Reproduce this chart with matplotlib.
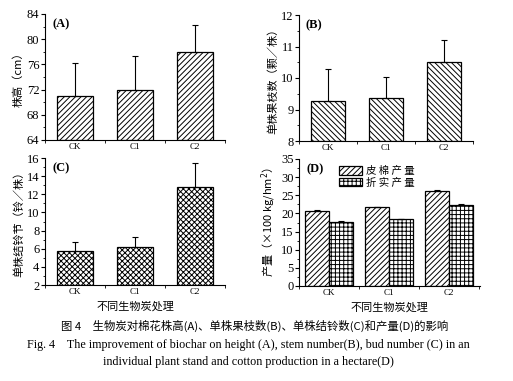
import matplotlib
matplotlib.use("Agg")
import matplotlib.pyplot as plt
import numpy as np

plt.rcParams['hatch.linewidth'] = 0.7
plt.rcParams['font.family'] = ['Liberation Serif', 'Noto Sans CJK SC']

categories = ["CK", "C1", "C2"]
height_vals = [71.0, 72.0, 78.0]
height_err = [5.3, 5.3, 4.2]
branch_vals = [9.28, 9.38, 10.5]
branch_err = [1.0, 0.64, 0.7]
boll_vals = [5.75, 6.15, 12.8]
boll_err = [1.0, 1.15, 2.65]
lint_vals = [20.8, 21.7, 26.2]
lint_err = [0.2, 0.2, 0.2]
seed_vals = [17.7, 18.4, 22.3]
seed_err = [0.2, 0.2, 0.2]
legend_labels = ["皮 棉 产 量", "折 实 产 量"]

CJK = ['Noto Sans CJK SC', 'Liberation Serif']
W, H = 513, 381
fig = plt.figure(figsize=(W / 100, H / 100), dpi=100)

def ax_at(l, t, r, b):
    return fig.add_axes([l / W, 1 - b / H, (r - l) / W, (b - t) / H])

def style(ax, ylim, yticks, yminor, xlim):
    ax.spines['top'].set_visible(False)
    ax.spines['right'].set_visible(False)
    ax.set_ylim(*ylim)
    ax.set_xlim(*xlim)
    ax.set_yticks(yticks)
    ax.set_yticks(yminor, minor=True)
    ax.set_xticks([1, 2, 3])
    ax.set_xticklabels(categories, fontsize=6.5)
    ax.set_xticks([0.5, 1.5, 2.5, 3.5], minor=True)
    ax.tick_params(axis='y', which='major', labelsize=9, length=3, width=0.8, pad=1)
    ax.tick_params(axis='y', which='minor', length=1.5, width=0.6)
    ax.tick_params(axis='x', which='major', length=2, width=0.8, direction='in', pad=2)
    ax.tick_params(axis='x', which='minor', length=2, width=0.6)
    for s in ('left', 'bottom'):
        ax.spines[s].set_linewidth(0.8)

x = np.arange(1, 4)
ekw = dict(ecolor='black', elinewidth=0.8, capsize=2.5, capthick=0.8)

def single(ax, vals, err, hatch, ylim, yticks, yminor, xlim, ylabel, tag, width=0.6):
    yerr = [np.zeros(len(vals)), err]
    ax.bar(x, np.array(vals) - ylim[0], bottom=ylim[0], width=width, color='white',
           edgecolor='black', linewidth=0.9, hatch=hatch, yerr=yerr, error_kw=ekw, zorder=2)
    style(ax, ylim, yticks, yminor, xlim)
    ax.set_ylabel(ylabel, family=CJK, fontsize=8, labelpad=2)
    ax.text(0.04, 0.92, tag, transform=ax.transAxes, fontsize=9, fontweight='bold', va='center')

# A
axA = ax_at(45, 14, 225, 140)
single(axA, height_vals, height_err, '//////', (64, 84), np.arange(64, 85, 4),
       np.arange(66, 84, 4), (0.5, 3.5), '株高（cm）', '(A)')
# B
axB = ax_at(299, 15, 473, 141)
single(axB, branch_vals, branch_err, '\\\\\\\\\\\\', (8, 12), np.arange(8, 13, 1),
       np.arange(8.5, 12, 1), (0.5, 3.4), '单株果枝数（颗／株）', '(B)')
# C
axC = ax_at(45, 158, 225, 285)
single(axC, boll_vals, boll_err, 'xxxxxx', (2, 16), np.arange(2, 17, 2),
       np.arange(3, 16, 2), (0.5, 3.5), '单株结铃节（铃／株）', '(C)')
axC.set_xlabel('不同生物炭处理', family=CJK, fontsize=8, labelpad=4)

# D
axD = ax_at(299, 159, 480, 286)
bw = 0.4
b1 = axD.bar(x - bw / 2, lint_vals, width=bw, color='white', edgecolor='black', linewidth=0.9,
             hatch='//////', yerr=[np.zeros(3), lint_err], error_kw=ekw, zorder=2, label=legend_labels[0])
b2 = axD.bar(x + bw / 2, seed_vals, width=bw, color='white', edgecolor='black', linewidth=0.9,
             hatch='++++', yerr=[np.zeros(3), seed_err], error_kw=ekw, zorder=2, label=legend_labels[1])
style(axD, (0, 35), np.arange(0, 36, 5), np.arange(2.5, 35, 5), (0.5, 3.52))
axD.set_ylabel('产量（×100 kg/hm$^2$）', family=CJK, fontsize=8, labelpad=2)
axD.set_xlabel('不同生物炭处理', family=CJK, fontsize=8, labelpad=4)
axD.text(0.04, 0.92, '(D)', transform=axD.transAxes, fontsize=9, fontweight='bold', va='center')
leg = axD.legend(loc='upper left', bbox_to_anchor=(0.18, 1.0), frameon=False,
                 prop={'family': CJK, 'size': 7.5}, handlelength=2.2, handleheight=0.9,
                 labelspacing=0.1, handletextpad=0.4, borderpad=0.2)

# captions
fig.text(0.497, 1 - 326 / H, '图 4　生物炭对棉花株高(A)、单株果枝数(B)、单株结铃数(C)和产量(D)的影响',
         ha='center', va='center', family=CJK, fontsize=8.2)
fig.text(0.484, 1 - 345 / H, 'Fig. 4    The improvement of biochar on height (A), stem number(B), bud number (C) in an',
         ha='center', va='center', fontsize=8.7)
fig.text(0.484, 1 - 362 / H, 'individual plant stand and cotton production in a hectare(D)',
         ha='center', va='center', fontsize=8.7)

fig.savefig('out.png', dpi=100)
